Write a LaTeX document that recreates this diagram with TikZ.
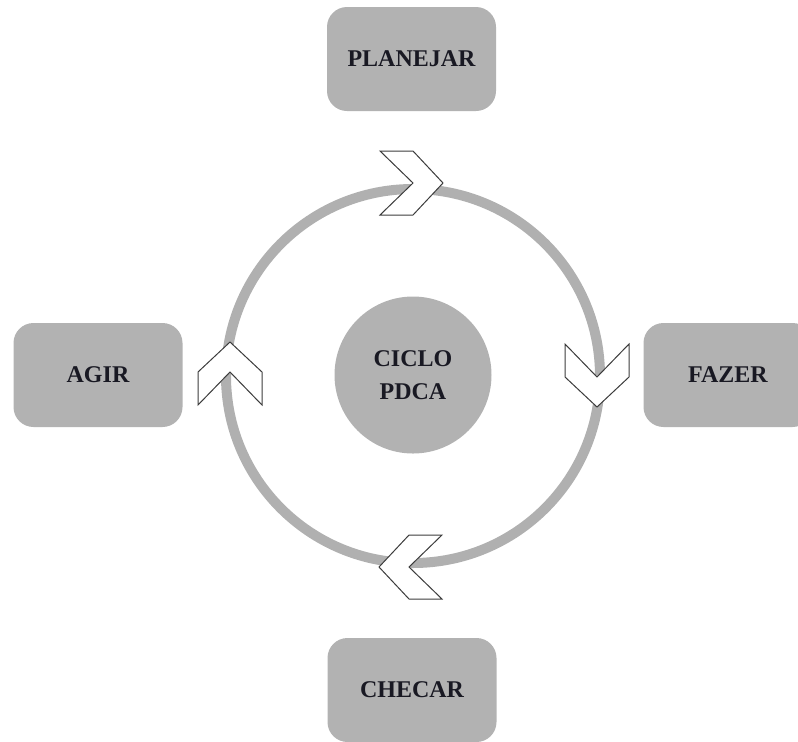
\documentclass[tikz,border=0pt]{standalone}
\usepackage{fontspec}
\setmainfont{Liberation Serif}
\definecolor{boxgray}{RGB}{178,178,178}
\definecolor{ringgray}{RGB}{176,176,176}
\definecolor{edgegray}{RGB}{60,60,60}
\definecolor{textdark}{RGB}{25,25,35}

\tikzset{
  stage/.style={rectangle, rounded corners=10pt, fill=boxgray, minimum width=84.5pt, minimum height=52pt,
    font=\fontsize{12}{14}\selectfont\bfseries, text=textdark},
  hub/.style={circle, fill=boxgray, minimum size=78.5pt, inner sep=0pt, align=center,
    font=\fontsize{12}{16.5}\selectfont\bfseries, text=textdark},
  pics/chevron/.style={code={
    \draw[edgegray, line width=0.5pt, fill=white, line join=miter]
      (-31,-32) -- (2,-32) -- (32,0) -- (2,32) -- (-31,32) -- (2,0) -- cycle;}}
}

\begin{document}
\begin{tikzpicture}[x=0.5pt, y=-0.5pt]
  \useasboundingbox (0,0) rectangle (798,741);

  % Cycle ring
  \draw[ringgray, line width=5pt] (413,376) circle[radius=187];

  % Centre
  \node[hub] (hub) at (413,375) {CICLO\\PDCA};

  % Stages
  \node[stage] (plan) at (411.5,59) {PLANEJAR};
  \node[stage] (do) at (728,375) {FAZER};
  \node[stage] (check) at (412,690) {CHECAR};
  \node[stage] (act) at (98,375) {AGIR};

  % Direction marks on the ring
  \foreach \pos/\ang in {{(411,183)}/0, {(597,375)}/-90, {(411,567)}/180, {(230,374)}/90} {
    \pic[rotate=\ang] at \pos {chevron};
  }
\end{tikzpicture}
\end{document}
